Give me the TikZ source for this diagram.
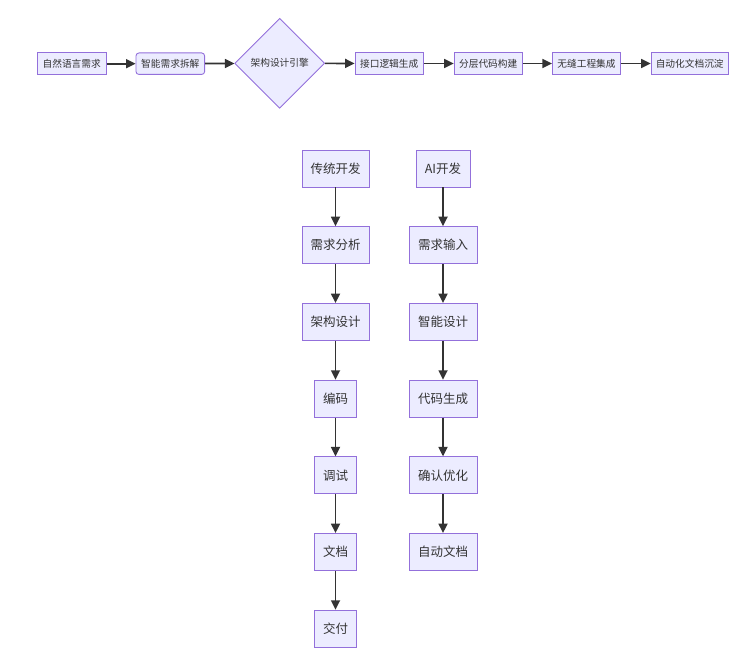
\documentclass[tikz,border=0pt]{standalone}
\usepackage{fontspec}
\setmainfont{Noto Sans CJK SC}
\usetikzlibrary{shapes.geometric,arrows.meta}
\definecolor{mfill}{HTML}{ECECFF}
\definecolor{mstroke}{HTML}{9370DB}
\definecolor{mtext}{HTML}{333333}
\tikzset{
  box/.style={draw=mstroke,fill=mfill,line width=0.9pt,inner sep=0pt,text=mtext,minimum height=21.5pt},
  topbox/.style={box,font=\fontsize{9.7}{11}\selectfont},
  bigbox/.style={box,minimum height=37pt,font=\fontsize{12.5}{14}\selectfont},
  dia/.style={draw=mstroke,fill=mfill,line width=0.9pt,diamond,aspect=1,inner sep=0pt,minimum width=90pt,minimum height=90pt,text=mtext,font=\fontsize{9.7}{11}\selectfont},
  arr/.style={draw=mtext,line width=1.7pt,-{Triangle[length=9.5pt,width=9pt]}}
}
\begin{document}
\begin{tikzpicture}[x=1pt,y=-1pt]
\useasboundingbox (0,0) rectangle (754,652);
% top row
\node[topbox,minimum width=68.7pt] (n1) at (71.7,63.7) {自然语言需求};
\node[topbox,minimum width=68.7pt,rounded corners=3pt] (n2) at (170.3,63.7) {智能需求拆解};
\node[dia] (d) at (279.7,63.3) {架构设计引擎};
\node[topbox,minimum width=68.3pt] (n3) at (389.2,63.5) {接口逻辑生成};
\node[topbox,minimum width=68.3pt] (n4) at (488.2,63.5) {分层代码构建};
\node[topbox,minimum width=68.4pt] (n5) at (586.5,63.5) {无缝工程集成};
\node[topbox,minimum width=77.3pt] (n6) at (689.7,63.5) {自动化文档沉淀};
\draw[arr] (n1) -- (n2);
\draw[arr] (n2) -- (d);
\draw[arr] (d) -- (n3);
\draw[arr] (n3) -- (n4);
\draw[arr] (n4) -- (n5);
\draw[arr] (n5) -- (n6);
% left column
\node[bigbox,minimum width=67pt] (a1) at (335.5,168.5) {传统开发};
\node[bigbox,minimum width=67pt] (a2) at (335.5,245.2) {需求分析};
\node[bigbox,minimum width=67pt] (a3) at (335.5,322) {架构设计};
\node[bigbox,minimum width=42pt] (a4) at (335.5,398.7) {编码};
\node[bigbox,minimum width=42pt] (a5) at (335.5,475.3) {调试};
\node[bigbox,minimum width=42pt] (a6) at (335.5,552) {文档};
\node[bigbox,minimum width=42pt] (a7) at (335.5,628.7) {交付};
\foreach \i/\j in {a1/a2,a2/a3,a3/a4,a4/a5,a5/a6,a6/a7} \draw[arr] (\i) -- (\j);
% right column
\node[bigbox,minimum width=54pt] (b1) at (443,168.5) {AI开发};
\node[bigbox,minimum width=68pt] (b2) at (443,245.2) {需求输入};
\node[bigbox,minimum width=68pt] (b3) at (443,322) {智能设计};
\node[bigbox,minimum width=68pt] (b4) at (443,398.7) {代码生成};
\node[bigbox,minimum width=68pt] (b5) at (443,475.3) {确认优化};
\node[bigbox,minimum width=68pt] (b6) at (443,552) {自动文档};
\foreach \i/\j in {b1/b2,b2/b3,b3/b4,b4/b5,b5/b6} \draw[arr] (\i) -- (\j);
\end{tikzpicture}
\end{document}
